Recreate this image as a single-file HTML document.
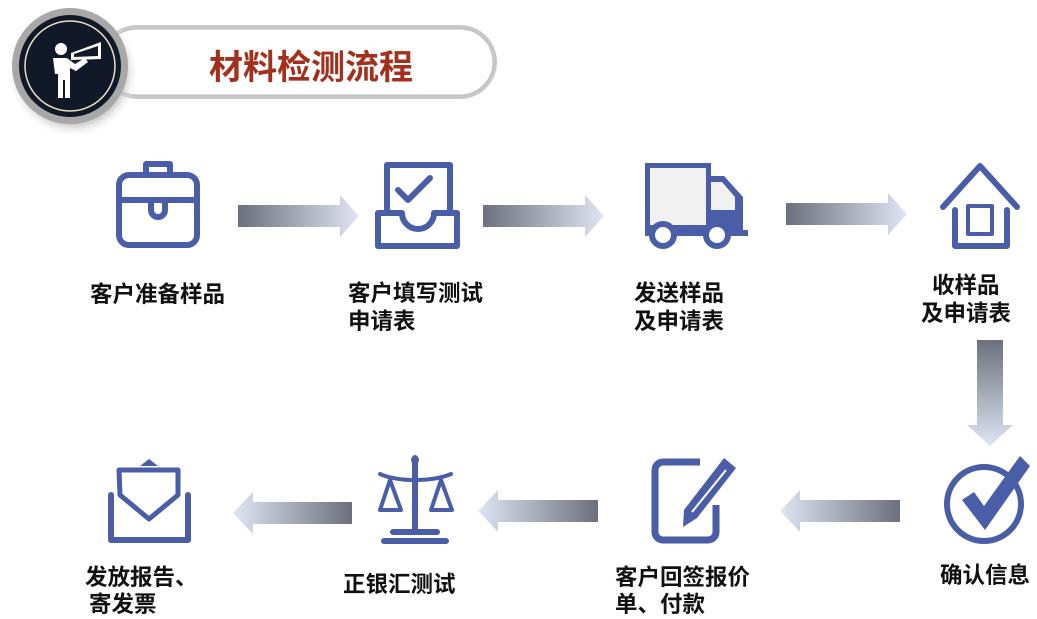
<!DOCTYPE html>
<html><head><meta charset="utf-8"><style>
html,body{margin:0;padding:0;background:#fff;}
svg{display:block}
text{font-family:"Liberation Sans","Noto Sans CJK SC",sans-serif;font-weight:bold;fill:#111;font-size:22.5px}
</style></head><body>
<svg width="1037" height="619" viewBox="0 0 1037 619" xmlns="http://www.w3.org/2000/svg">
<defs>
<linearGradient id="gr" x1="0" x2="1" y1="0" y2="0"><stop offset="0" stop-color="#6c707c"/><stop offset="1" stop-color="#dfe5f3"/></linearGradient>
<linearGradient id="gl" x1="1" x2="0" y1="0" y2="0"><stop offset="0" stop-color="#6c707c"/><stop offset="1" stop-color="#dfe5f3"/></linearGradient>
<linearGradient id="gd" x1="0" x2="0" y1="0" y2="1"><stop offset="0" stop-color="#6c707c"/><stop offset="1" stop-color="#dfe5f3"/></linearGradient>
<radialGradient id="sh" cx="0.5" cy="0.5" r="0.5"><stop offset="0.7" stop-color="#999"/><stop offset="1" stop-color="#fff" stop-opacity="0"/></radialGradient>
</defs>
<rect x="100" y="25" width="397" height="74" rx="37" fill="#c8c8c8"/>
<rect x="104" y="29" width="389" height="66" rx="33" fill="#fff" stroke="#bdbdbd" stroke-width="1"/>
<text x="311" y="79" text-anchor="middle" style="font-size:34px;fill:#a2301c">材料检测流程</text>
<circle cx="73" cy="72" r="66" fill="url(#sh)"/>
<circle cx="70" cy="66" r="58" fill="#a8a8a8"/>
<circle cx="70" cy="66" r="51" fill="#111827"/>
<circle cx="70" cy="66" r="45" fill="none" stroke="#e8dfc4" stroke-width="1.5"/>
<circle cx="61" cy="49" r="6" fill="#fff"/>
<path d="M53 58 h14 l8 6 l10 -6 l3 4 l-12 9 l-6 -3 v30 h-5 v-18 h-2 v18 h-5 v-24 l-3 0 z" fill="#fff"/>
<path d="M71 53 L101 42 V59 L71 60 Z" fill="#fff"/>
<path d="M74 54 L98 46 V56 L74 57 Z" fill="#111827"/>
<path d="M238 205 H340 V195 L359 216 L340 237 V227 H238 Z" fill="url(#gr)"/>
<path d="M483 205 H585 V195 L604 216 L585 237 V227 H483 Z" fill="url(#gr)"/>
<path d="M786 203 H888 V193 L907 214 L888 235 V225 H786 Z" fill="url(#gr)"/>
<path d="M977 340 V425 H967 L990 446 L1013 425 H1003 V340 Z" fill="url(#gd)"/>
<path d="M900 500 H800 V490 L780 511 L800 532 V522 H900 Z" fill="url(#gl)"/>
<path d="M598 500 H498 V490 L478 511 L498 532 V522 H598 Z" fill="url(#gl)"/>
<path d="M352 502 H253 V492 L233 513 L253 534 V524 H352 Z" fill="url(#gl)"/>
<g fill="none" stroke="#4a5ea8" stroke-width="6" stroke-linecap="round" stroke-linejoin="round">
<rect x="119" y="175" width="78" height="70" rx="10"/>
<path d="M146 175 V164 H170 V175"/>
<path d="M119 200 H197"/>
<path d="M151 200 V210 a7 7 0 0 0 14 0 V200"/>
<path d="M387 213 V165 H450 V213"/>
<path d="M398 190 l10 10 l22 -22"/>
<path d="M378 213 V246 H457 V213 H434 a16 16 0 0 1 -32 0 Z"/>
<path d="M943 207 L980 166 L1017 207"/>
<path d="M955 210 V246 H1007 V210"/>
<rect x="968" y="206" width="24" height="28" stroke-width="4"/>
<circle cx="984" cy="504" r="37"/>
<path d="M111 495 V540 H188 V495"/>
<path d="M119 470 H178 V495 L149 519 L120 495 Z" stroke-width="5"/>
<path d="M415 458 V532 M393 532 H437 M384 541 H446"/>
<path d="M380 474 C398 482 432 482 451 474" stroke-width="4"/>
<path d="M390 480 L380 510 H401 Z M441 480 L431 510 H452 Z" stroke-width="4"/>
</g>
<path d="M645 163 H711 V176 H724 L743 197 V230 H748 V236 H645 Z" fill="#4a5ea8"/>
<rect x="650" y="168" width="56" height="57" fill="#f1f1f1"/>
<path d="M711 182 H722 L735 197 V210 H711 Z" fill="#f1f1f1"/>
<circle cx="663" cy="235" r="11" fill="#fff" stroke="#4a5ea8" stroke-width="6"/>
<circle cx="717" cy="235" r="11" fill="#fff" stroke="#4a5ea8" stroke-width="6"/>
<path d="M962 500 L974 492 L984 506 L1020 456 L1030 466 L985 530 Z" fill="#4a5ea8"/>
<path d="M700 462 H663 a8 8 0 0 0 -8 8 V532 a8 8 0 0 0 8 8 H708 a8 8 0 0 0 8 -8 V505" fill="none" stroke="#4a5ea8" stroke-width="7"/>
<path d="M724 458 L736 468 L697 518 L683 527 L684 510 Z" fill="#4a5ea8"/>
<path d="M692 512 L726 470" stroke="#fff" stroke-width="2"/>
<path d="M140 466 L149 459 L158 466 Z" fill="#4a5ea8"/>
<circle cx="415" cy="460" r="4" fill="#4a5ea8"/>
<text x="90" y="302">客户准备样品</text>
<text x="348" y="301">客户填写测试</text>
<text x="348" y="329">申请表</text>
<text x="634" y="301">发送样品</text>
<text x="634" y="329">及申请表</text>
<text x="932" y="293">收样品</text>
<text x="921" y="321">及申请表</text>
<text x="85" y="585">发放报告、</text>
<text x="89" y="612">寄发票</text>
<text x="343" y="592">正银汇测试</text>
<text x="615" y="585">客户回签报价</text>
<text x="615" y="612">单、付款</text>
<text x="940" y="583">确认信息</text>
</svg>
</body></html>
